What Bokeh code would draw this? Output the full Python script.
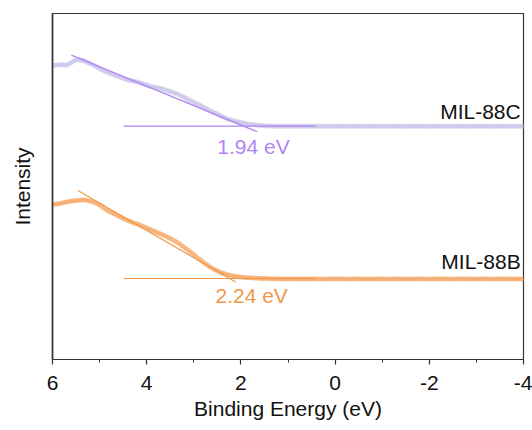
from bokeh.plotting import figure
from bokeh.models import Range1d, FixedTicker
from bokeh.core.properties import value
from bokeh.embed import file_html
from bokeh.resources import INLINE

# Binding energy grid of the VB-XPS scans (eV)
energy = [
    6.00, 5.95, 5.90, 5.85, 5.80, 5.75, 5.70, 5.65, 5.60, 5.55,
    5.50, 5.45, 5.40, 5.35, 5.30, 5.25, 5.20, 5.15, 5.10, 5.05,
    5.00, 4.95, 4.90, 4.85, 4.80, 4.75, 4.70, 4.65, 4.60, 4.55,
    4.50, 4.45, 4.40, 4.35, 4.30, 4.25, 4.20, 4.15, 4.10, 4.05,
    4.00, 3.95, 3.90, 3.85, 3.80, 3.75, 3.70, 3.65, 3.60, 3.55,
    3.50, 3.45, 3.40, 3.35, 3.30, 3.25, 3.20, 3.15, 3.10, 3.05,
    3.00, 2.95, 2.90, 2.85, 2.80, 2.75, 2.70, 2.65, 2.60, 2.55,
    2.50, 2.45, 2.40, 2.35, 2.30, 2.25, 2.20, 2.15, 2.10, 2.05,
    2.00, 1.95, 1.90, 1.85, 1.80, 1.75, 1.70, 1.65, 1.60, 1.55,
    1.50, 1.45, 1.40, 1.35, 1.30, 1.25, 1.20, 1.15, 1.10, 1.05,
    1.00, 0.95, 0.90, 0.85, 0.80, 0.75, 0.70, 0.65, 0.60, 0.55,
    0.50, 0.45, 0.40, 0.35, 0.30, 0.25, 0.20, 0.15, 0.10, 0.05,
    0.00, -0.05, -0.10, -0.15, -0.20, -0.25, -0.30, -0.35, -0.40, -0.45,
    -0.50, -0.55, -0.60, -0.65, -0.70, -0.75, -0.80, -0.85, -0.90, -0.95,
    -1.00, -1.05, -1.10, -1.15, -1.20, -1.25, -1.30, -1.35, -1.40, -1.45,
    -1.50, -1.55, -1.60, -1.65, -1.70, -1.75, -1.80, -1.85, -1.90, -1.95,
    -2.00, -2.05, -2.10, -2.15, -2.20, -2.25, -2.30, -2.35, -2.40, -2.45,
    -2.50, -2.55, -2.60, -2.65, -2.70, -2.75, -2.80, -2.85, -2.90, -2.95,
    -3.00, -3.05, -3.10, -3.15, -3.20, -3.25, -3.30, -3.35, -3.40, -3.45,
    -3.50, -3.55, -3.60, -3.65, -3.70, -3.75, -3.80, -3.85, -3.90, -3.95,
    -4.00,
]

# Intensity (a.u., stacked) of MIL-88C
mil88c = [
    294.0, 294.3, 294.5, 294.8, 295.0, 294.6, 294.2, 295.5, 297.0, 298.5,
    299.5, 299.8, 299.5, 299.0, 298.0, 297.0, 296.0, 294.8, 293.5, 292.2,
    291.0, 289.8, 288.5, 287.5, 286.5, 285.5, 284.5, 283.8, 283.0, 282.0,
    281.0, 280.2, 279.5, 279.0, 278.5, 278.0, 277.5, 276.8, 276.0, 275.2,
    274.5, 273.8, 273.0, 272.5, 272.0, 271.5, 271.0, 270.2, 269.5, 268.8,
    268.0, 267.3, 266.5, 265.5, 264.5, 263.3, 262.0, 260.8, 259.5, 258.4,
    257.3, 256.2, 255.0, 253.8, 252.5, 251.2, 250.0, 248.8, 247.5, 246.5,
    245.5, 244.2, 243.0, 242.0, 241.0, 240.2, 239.5, 238.8, 238.0, 237.5,
    237.0, 236.5, 236.0, 235.6, 235.2, 235.0, 234.7, 234.5, 234.2, 234.0,
    233.8, 233.6, 233.5, 233.4, 233.3, 233.4, 233.2, 233.3, 233.4, 233.3,
    233.2, 233.3, 233.4, 233.3, 233.2, 233.3, 233.3, 233.4, 233.2, 233.3,
    233.3, 233.2, 233.4, 233.3, 233.3, 233.2, 233.3, 233.4, 233.3, 233.2,
    233.3, 233.4, 233.3, 233.2, 233.3, 233.3, 233.4, 233.3, 233.2, 233.3,
    233.4, 233.3, 233.3, 233.2, 233.3, 233.4, 233.3, 233.3, 233.2, 233.3,
    233.3, 233.4, 233.3, 233.2, 233.3, 233.3, 233.4, 233.3, 233.3, 233.2,
    233.3, 233.3, 233.4, 233.3, 233.2, 233.3, 233.3, 233.4, 233.3, 233.3,
    233.2, 233.3, 233.4, 233.3, 233.3, 233.2, 233.3, 233.3, 233.4, 233.3,
    233.3, 233.2, 233.3, 233.4, 233.3, 233.3, 233.2, 233.3, 233.3, 233.4,
    233.3, 233.3, 233.2, 233.3, 233.4, 233.3, 233.3, 233.2, 233.3, 233.3,
    233.4, 233.3, 233.3, 233.2, 233.3, 233.4, 233.3, 233.3, 233.2, 233.3,
    233.3,
]

# Intensity (a.u., stacked) of MIL-88B
mil88b = [
    155.0, 155.2, 155.5, 156.0, 156.5, 157.0, 157.5, 158.0, 158.5, 158.8,
    159.0, 159.3, 159.5, 159.6, 159.5, 159.0, 158.5, 157.8, 157.0, 155.8,
    154.5, 152.8, 151.0, 149.5, 148.0, 147.0, 146.0, 144.8, 143.5, 142.2,
    141.0, 140.0, 139.0, 138.0, 137.0, 136.2, 135.5, 134.5, 133.5, 132.5,
    131.5, 130.5, 129.5, 128.5, 127.5, 126.5, 125.5, 124.5, 123.5, 122.2,
    121.0, 119.8, 118.5, 117.0, 115.5, 113.8, 112.0, 110.2, 108.5, 106.8,
    105.0, 103.0, 101.0, 99.2, 97.5, 95.8, 94.0, 92.5, 91.0, 89.7,
    88.5, 87.5, 86.5, 85.7, 85.0, 84.5, 84.0, 83.5, 83.0, 82.8,
    82.5, 82.2, 82.0, 81.8, 81.7, 81.6, 81.5, 81.3, 81.2, 81.1,
    81.0, 80.9, 80.8, 80.8, 80.7, 80.7, 80.6, 80.7, 80.6, 80.5,
    80.6, 80.6, 80.7, 80.6, 80.5, 80.6, 80.6, 80.7, 80.6, 80.6,
    80.5, 80.6, 80.7, 80.6, 80.6, 80.5, 80.6, 80.6, 80.7, 80.6,
    80.6, 80.5, 80.6, 80.7, 80.6, 80.6, 80.5, 80.6, 80.6, 80.7,
    80.6, 80.6, 80.5, 80.6, 80.7, 80.6, 80.6, 80.5, 80.6, 80.6,
    80.7, 80.6, 80.6, 80.5, 80.6, 80.7, 80.6, 80.6, 80.5, 80.6,
    80.6, 80.7, 80.6, 80.6, 80.5, 80.6, 80.7, 80.6, 80.6, 80.5,
    80.6, 80.6, 80.7, 80.6, 80.6, 80.5, 80.6, 80.7, 80.6, 80.6,
    80.5, 80.6, 80.6, 80.7, 80.6, 80.6, 80.5, 80.6, 80.7, 80.6,
    80.6, 80.5, 80.6, 80.6, 80.7, 80.6, 80.6, 80.5, 80.6, 80.7,
    80.6, 80.6, 80.5, 80.6, 80.6, 80.7, 80.6, 80.6, 80.5, 80.6,
    80.6,
]

# Linear extrapolation of the leading edge and the flat background
mil88c_edge_x = [5.60, 1.65]
mil88c_edge_y = [304.4, 227.7]
mil88c_base_x = [4.49, 0.42]
mil88c_base_y = [233.3, 233.3]

mil88b_edge_x = [5.46, 2.11]
mil88b_edge_y = [169.0, 77.4]
mil88b_base_x = [4.49, 0.42]
mil88b_base_y = [81.0, 81.0]

# Valence band maxima from the intersections
vbm_values = [1.94, 2.24]
vbm_labels = ["1.94 eV", "2.24 eV"]
sample_names = ["MIL-88C", "MIL-88B"]

tick_values = [6, 4, 2, 0, -2, -4]
tick_labels = ["6", "4", "2", "0", "-2", "-4"]
minor_tick_values = [5, 3, 1, -1, -3]

FONT = "Liberation Sans"
FS = "21px"
C_MARK = "#c6c3e9"
C_PURPLE = "#b283f2"
B_MARK = "#f6a461"
C_ORANGE = "#f0984a"

p = figure(
    width=532, height=430,
    x_range=Range1d(6, -4), y_range=Range1d(0, 346),
    output_backend="svg", toolbar_location=None,
    min_border_left=52, min_border_right=9,
    min_border_top=13, min_border_bottom=71,
)
p.xgrid.visible = False
p.ygrid.visible = False
p.background_fill_color = "white"
p.border_fill_color = "white"
p.outline_line_color = "#333333"
p.outline_line_width = 1.2
p.outline_line_alpha = 1.0

# x axis
xa = p.xaxis[0]
xa.ticker = FixedTicker(ticks=tick_values, minor_ticks=minor_tick_values)
xa.major_label_overrides = {t: s for t, s in zip(tick_values, tick_labels)}
xa.axis_label = "Binding Energy (eV)"
xa.axis_label_text_font = FONT
xa.axis_label_text_font_style = "normal"
xa.axis_label_text_font_size = FS
xa.axis_label_text_color = "#111111"
xa.axis_label_standoff = 4
xa.major_label_text_font = FONT
xa.major_label_text_font_size = FS
xa.major_label_text_color = "#111111"
xa.major_label_standoff = 11
xa.axis_line_color = "#333333"
xa.axis_line_width = 1.2
xa.major_tick_line_color = "#333333"
xa.major_tick_line_width = 1.2
xa.major_tick_in = 0
xa.major_tick_out = 5
xa.minor_tick_line_color = "#333333"
xa.minor_tick_line_width = 1.0
xa.minor_tick_in = 0
xa.minor_tick_out = 3

# y axis: label only
ya = p.yaxis[0]
ya.ticker = FixedTicker(ticks=[])
ya.axis_label = "Intensity"
ya.axis_label_text_font = FONT
ya.axis_label_text_font_style = "normal"
ya.axis_label_text_font_size = FS
ya.axis_label_text_color = "#111111"
ya.axis_label_standoff = 19
ya.axis_line_color = "#333333"
ya.axis_line_width = 1.6
ya.major_tick_line_color = None
ya.minor_tick_line_color = None

# spectra
p.scatter(energy, mil88c, size=5, fill_color=C_MARK, line_color=None, fill_alpha=0.65)
p.scatter(energy, mil88b, size=5, fill_color=B_MARK, line_color=None, fill_alpha=0.65)

# extrapolation lines
p.line(mil88c_edge_x, mil88c_edge_y, line_color=C_PURPLE, line_width=1.2)
p.line(mil88c_base_x, mil88c_base_y, line_color=C_PURPLE, line_width=1.2)
p.line(mil88b_edge_x, mil88b_edge_y, line_color=C_ORANGE, line_width=1.2)
p.line(mil88b_base_x, mil88b_base_y, line_color=C_ORANGE, line_width=1.2)

# annotations
p.text(x=[2.50], y=[213.0], text=[vbm_labels[0]], text_color=C_PURPLE,
       text_font=value(FONT), text_font_size=FS,
       text_align="left", text_baseline="middle")
p.text(x=[2.54], y=[64.5], text=[vbm_labels[1]], text_color=C_ORANGE,
       text_font=value(FONT), text_font_size=FS,
       text_align="left", text_baseline="middle")
p.text(x=[-3.94, -3.94], y=[248.5, 98.5], text=sample_names, text_color="#111111",
       text_font=value(FONT), text_font_size=FS,
       text_align="right", text_baseline="middle")

open("out.html", "w").write(file_html(p, INLINE))
